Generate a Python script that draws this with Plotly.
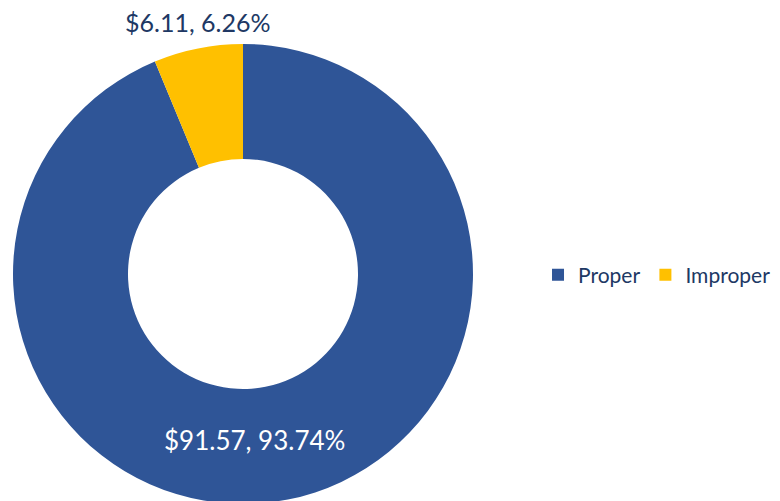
import plotly.graph_objects as go

labels = ["Proper", "Improper"]
values = [91.57, 6.11]
colors = ["#2F5597", "#FFC000"]

total = sum(values)
slice_labels = [f"${v:.2f}, {v / total * 100:.2f}%" for v in values]

fig = go.Figure(go.Pie(
    labels=labels,
    values=values,
    hole=0.5,
    sort=False,
    direction="clockwise",
    rotation=0,
    marker=dict(colors=colors, line=dict(width=0)),
    textinfo="none",
    domain=dict(x=[5/780, 465/780], y=[0.0, 470/501]),
    hoverinfo="label+value+percent",
))

# data labels (text built from the data)
fig.add_annotation(
    x=246/780, y=1 - 432/501, xref="paper", yref="paper",
    text=slice_labels[0], showarrow=False,
    xanchor="center", yanchor="middle",
    font=dict(size=26, color="white", family="Lato"),
)
fig.add_annotation(
    x=189/780, y=1 - 14/501, xref="paper", yref="paper",
    text=slice_labels[1], showarrow=False,
    xanchor="center", yanchor="middle",
    font=dict(size=25, color="#203864", family="Lato"),
)

fig.update_layout(
    width=780, height=501,
    margin=dict(l=0, r=0, t=0, b=0),
    paper_bgcolor="white",
    plot_bgcolor="white",
    font=dict(family="Lato", color="#203864"),
    showlegend=True,
    legend=dict(
        orientation="h",
        x=0.6795, y=0.467, xanchor="left", yanchor="middle",
        font=dict(size=21, color="#203864", family="Lato"),
        itemwidth=30,
    ),
)

fig.write_html("out.html")
